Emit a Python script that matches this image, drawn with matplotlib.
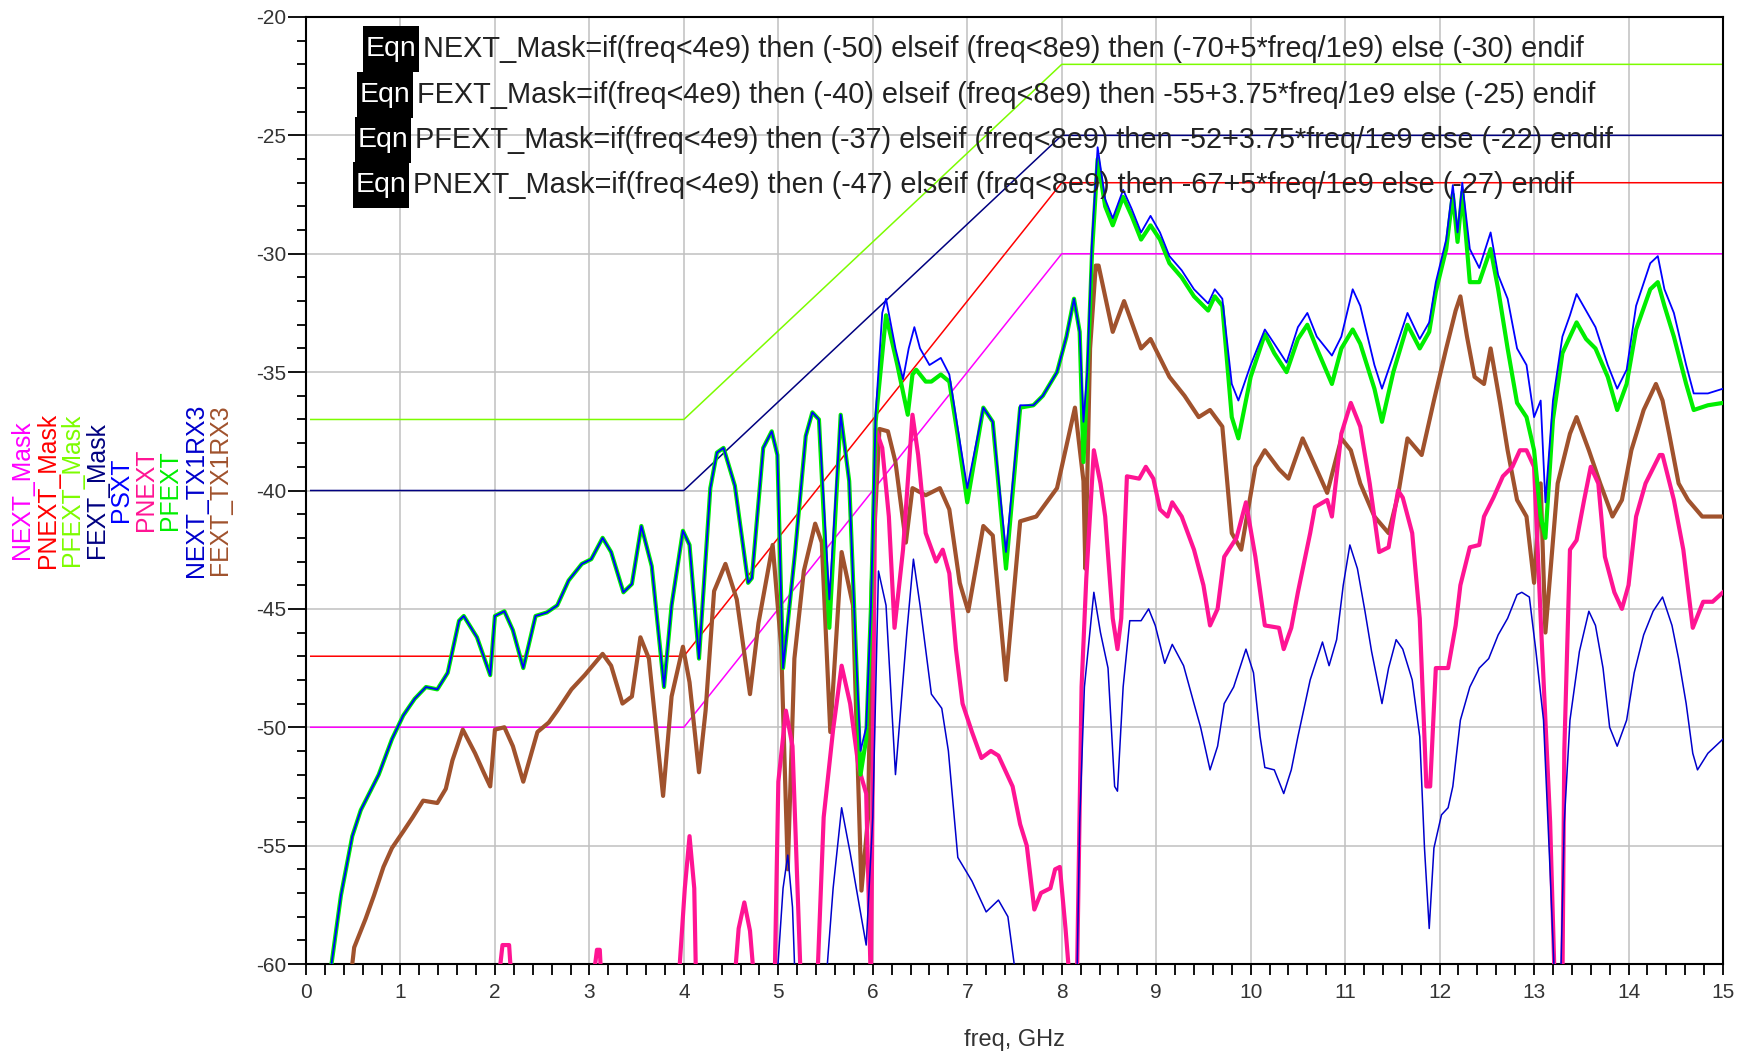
import matplotlib
matplotlib.use("Agg")
import matplotlib.pyplot as plt
from matplotlib.patches import Rectangle
from matplotlib.ticker import MultipleLocator

plt.rcParams['font.family'] = ['Liberation Sans', 'DejaVu Sans']

# masks (piecewise from the equations)
mask_f = [0.05, 4, 8, 15]
next_mask = [-50, -50, -30, -30]
pnext_mask = [-47, -47, -27, -27]
pfext_mask = [-37, -37, -22, -22]
fext_mask = [-40, -40, -25, -25]

# PFEXT (thick green)
pfext_f = [0.25, 0.27, 0.37, 0.49, 0.58, 0.77, 0.91, 1.03, 1.15, 1.27, 1.39, 1.5, 1.62, 1.67, 1.81, 1.95,
           2.0, 2.1, 2.19, 2.3, 2.43, 2.55, 2.66, 2.78, 2.92, 3.02, 3.14, 3.23, 3.36, 3.45, 3.55, 3.66,
           3.79, 3.87, 3.99, 4.06, 4.16, 4.28, 4.35, 4.42, 4.54, 4.68, 4.72, 4.84, 4.93, 4.99, 5.05,
           5.18, 5.29, 5.36, 5.43, 5.54, 5.66, 5.75, 5.82, 5.87, 5.93, 5.98, 6.03, 6.14, 6.26, 6.37,
           6.42, 6.46, 6.56, 6.62, 6.72, 6.81, 6.9, 7.0, 7.17, 7.27, 7.41, 7.56, 7.7, 7.8, 7.95, 8.05,
           8.13, 8.19, 8.23, 8.27, 8.32, 8.38, 8.46, 8.54, 8.65, 8.74, 8.84, 8.94, 9.04, 9.14, 9.27,
           9.4, 9.55, 9.62, 9.7, 9.8, 9.87, 10.0, 10.15, 10.25, 10.38, 10.5, 10.6, 10.7, 10.86, 10.96,
           11.08, 11.16, 11.31, 11.39, 11.51, 11.66, 11.79, 11.89, 11.96, 12.07, 12.14, 12.19, 12.24,
           12.32, 12.42, 12.54, 12.62, 12.72, 12.82, 12.92, 13.0, 13.07, 13.12, 13.2, 13.3, 13.38,
           13.45, 13.55, 13.65, 13.78, 13.88, 13.98, 14.08, 14.23, 14.31, 14.38, 14.48, 14.61, 14.69,
           14.84, 15.0]
pfext_db = [-61, -60, -57.1, -54.6, -53.5, -52.0, -50.5, -49.5, -48.8, -48.3, -48.4, -47.7, -45.5, -45.3, -46.2, -47.8,
            -45.3, -45.1, -45.9, -47.5, -45.3, -45.15, -44.85, -43.8, -43.1, -42.9, -42.0, -42.6, -44.3, -43.95, -41.5, -43.2,
            -48.3, -44.85, -41.7, -42.3, -47.1, -39.9, -38.4, -38.2, -39.8, -43.9, -43.7, -38.2, -37.5, -38.5, -47.5,
            -42.5, -37.7, -36.7, -37.0, -45.8, -36.8, -39.6, -46.7, -52.0, -50.5, -45.0, -37.1, -32.6, -34.7, -36.8,
            -35.1, -34.9, -35.4, -35.4, -35.1, -35.4, -37.7, -40.5, -36.5, -37.1, -43.3, -36.5, -36.4, -36.0, -35.0, -33.5,
            -31.9, -33.3, -38.8, -35.4, -30.0, -26.0, -28.0, -28.8, -27.6, -28.4, -29.4, -28.8, -29.4, -30.4, -31.0,
            -31.8, -32.4, -31.8, -32.2, -36.9, -37.8, -35.2, -33.4, -34.2, -35.0, -33.6, -33.0, -34.0, -35.5, -34.0,
            -33.2, -33.8, -35.7, -37.1, -35.0, -33.0, -34.0, -33.3, -31.6, -29.8, -27.5, -29.5, -27.4,
            -31.2, -31.2, -29.8, -31.5, -34.0, -36.3, -36.9, -38.3, -41.1, -42.0, -37.0, -34.2, -33.5,
            -32.9, -33.6, -34.0, -35.2, -36.6, -35.5, -33.2, -31.5, -31.2, -32.2, -33.5, -35.5, -36.6,
            -36.4, -36.3]

# PSXT (thin blue riding on PFEXT)
psxt_f = [0.25, 0.27, 0.37, 0.49, 0.58, 0.77, 0.91, 1.03, 1.15, 1.27, 1.39, 1.5, 1.62, 1.67, 1.81, 1.95,
          2.0, 2.1, 2.19, 2.3, 2.43, 2.55, 2.66, 2.78, 2.92, 3.02, 3.14, 3.23, 3.36, 3.45, 3.55, 3.66,
          3.79, 3.87, 3.99, 4.06, 4.16, 4.28, 4.35, 4.42, 4.54, 4.68, 4.72, 4.84, 4.93, 4.99, 5.05,
          5.18, 5.29, 5.36, 5.43, 5.54, 5.66, 5.75, 5.82, 5.87, 5.93, 5.98, 6.03, 6.1, 6.14, 6.24, 6.32,
          6.38, 6.44, 6.5, 6.6, 6.72, 6.81, 6.9, 7.0, 7.17, 7.27, 7.41, 7.56, 7.7, 7.8, 7.95, 8.05,
          8.13, 8.19, 8.23, 8.27, 8.32, 8.38, 8.46, 8.54, 8.65, 8.74, 8.84, 8.94, 9.04, 9.14, 9.27,
          9.4, 9.55, 9.62, 9.7, 9.8, 9.87, 10.0, 10.15, 10.25, 10.38, 10.5, 10.6, 10.7, 10.86, 10.96,
          11.08, 11.16, 11.31, 11.39, 11.51, 11.66, 11.79, 11.89, 11.96, 12.07, 12.14, 12.19, 12.24,
          12.32, 12.42, 12.54, 12.62, 12.72, 12.82, 12.92, 13.0, 13.07, 13.12, 13.2, 13.3, 13.38,
          13.45, 13.55, 13.65, 13.78, 13.88, 13.98, 14.08, 14.23, 14.31, 14.38, 14.48, 14.61, 14.69,
          14.84, 15.0]
psxt_db = [-61, -60, -57.1, -54.6, -53.5, -52.0, -50.5, -49.5, -48.8, -48.3, -48.4, -47.7, -45.5, -45.3, -46.2, -47.8,
           -45.3, -45.1, -45.9, -47.5, -45.3, -45.15, -44.85, -43.8, -43.1, -42.9, -42.0, -42.6, -44.3, -43.95, -41.5, -43.2,
           -48.3, -44.85, -41.7, -42.3, -47.1, -39.9, -38.4, -38.2, -39.8, -43.9, -43.7, -38.2, -37.5, -38.5, -47.5,
           -42.5, -37.7, -36.7, -37.0, -44.6, -36.8, -39.6, -46.7, -51.0, -50.0, -45.0, -36.8, -32.5, -31.9, -34.0, -35.3,
           -34.0, -33.1, -34.0, -34.7, -34.4, -35.1, -37.4, -39.9, -36.5, -37.1, -42.6, -36.4, -36.4, -36.0, -35.0, -33.5,
           -31.9, -33.3, -37.1, -35.0, -29.5, -25.5, -27.7, -28.5, -27.3, -28.1, -29.1, -28.4, -29.1, -30.1, -30.7,
           -31.5, -32.1, -31.5, -31.9, -35.5, -36.2, -34.7, -33.2, -33.8, -34.6, -33.1, -32.5, -33.5, -34.3, -33.5,
           -31.5, -32.2, -34.7, -35.7, -34.3, -32.5, -33.6, -32.9, -31.2, -29.4, -27.1, -29.1, -27.0,
           -29.8, -30.6, -29.1, -30.9, -31.9, -34.0, -34.7, -36.9, -36.2, -40.5, -36.2, -33.5, -32.6,
           -31.7, -32.4, -33.1, -34.7, -35.7, -34.9, -32.2, -30.4, -30.1, -31.5, -32.5, -34.7, -35.9,
           -35.9, -35.7]

# FEXT_TX1RX3 (thick brown)
fext_f = [0.47, 0.49, 0.51, 0.63, 0.72, 0.82, 0.91, 1.03, 1.13, 1.24, 1.39, 1.48, 1.55, 1.66, 1.79, 1.88,
          1.95, 2.0, 2.1, 2.19, 2.3, 2.45, 2.57, 2.66, 2.81, 2.95, 3.14, 3.23, 3.35, 3.45, 3.54, 3.63,
          3.78, 3.87, 3.99, 4.06, 4.16, 4.23, 4.32, 4.44, 4.56, 4.7, 4.79, 4.94, 5.03, 5.1, 5.17, 5.27,
          5.39, 5.46, 5.55, 5.67, 5.79, 5.88, 5.95, 5.99, 6.07, 6.16, 6.24, 6.35, 6.42, 6.56, 6.71, 6.81,
          6.92, 7.01, 7.17, 7.27, 7.41, 7.56, 7.73, 7.95, 8.14, 8.23, 8.25, 8.3, 8.36, 8.39, 8.54, 8.66,
          8.84, 8.94, 9.14, 9.3, 9.45, 9.57, 9.7, 9.8, 9.9, 10.05, 10.15, 10.3, 10.4, 10.55, 10.63,
          10.81, 10.96, 11.06, 11.16, 11.31, 11.46, 11.56, 11.66, 11.81, 11.94, 12.07, 12.17, 12.22,
          12.29, 12.37, 12.47, 12.54, 12.64, 12.72, 12.82, 12.92, 13.0, 13.07, 13.12, 13.25, 13.38,
          13.45, 13.58, 13.7, 13.83, 13.93, 14.03, 14.16, 14.29, 14.36, 14.43, 14.53, 14.63, 14.78, 15.0]
fext_db = [-61, -60, -59.3, -58.1, -57.1, -55.9, -55.1, -54.4, -53.8, -53.1, -53.2, -52.6, -51.4, -50.1, -51.1, -51.9,
           -52.5, -50.1, -50.0, -50.8, -52.3, -50.2, -49.8, -49.3, -48.4, -47.8, -46.9, -47.4, -49.0, -48.7, -46.2, -47.1,
           -52.9, -48.7, -46.6, -48.1, -51.9, -49.3, -44.25, -43.1, -44.6, -48.6, -45.6, -42.3, -46.6, -56.0, -47.1, -43.4,
           -41.4, -42.2, -50.2, -42.6, -44.85, -56.9, -53.8, -43.9, -37.4, -37.5, -38.8, -42.2, -39.9, -40.2, -39.9, -40.8,
           -43.9, -45.1, -41.5, -41.9, -48.0, -41.3, -41.1, -39.9, -36.5, -39.6, -43.3, -34.0, -30.5, -30.5, -33.3, -32.0,
           -34.0, -33.6, -35.2, -36.0, -36.9, -36.6, -37.3, -41.8, -42.5, -39.0, -38.3, -39.1, -39.5, -37.8, -38.5,
           -40.1, -37.8, -38.3, -39.7, -41.1, -41.8, -40.2, -37.8, -38.5, -36.2, -34.0, -32.4, -31.8,
           -33.5, -35.2, -35.5, -34.0, -36.3, -38.3, -40.4, -41.1, -43.9, -39.7, -46.0, -39.7, -37.6,
           -36.9, -38.3, -39.7, -41.1, -40.4, -38.3, -36.6, -35.5, -36.2, -37.6, -39.7, -40.4, -41.1, -41.1]

# PNEXT (thick pink)
pnext_f = [2.03, 2.08, 2.15, 2.18, 3.03, 3.08, 3.11, 3.13, 3.94, 4.01, 4.06, 4.11, 4.13, 4.53, 4.58, 4.64, 4.7,
           4.75, 4.96, 5.0, 5.08, 5.15, 5.24, 5.41, 5.48, 5.58, 5.67, 5.76, 5.85, 5.93, 5.98, 6.03, 6.1, 6.17,
           6.23, 6.32, 6.42, 6.48, 6.56, 6.67, 6.74, 6.81, 6.88, 6.95, 7.05, 7.15, 7.25, 7.33, 7.48, 7.56,
           7.63, 7.71, 7.78, 7.88, 7.93, 7.98, 8.04, 8.09, 8.16, 8.21, 8.26, 8.34, 8.41, 8.46, 8.54, 8.59,
           8.63, 8.69, 8.82, 8.89, 8.97, 9.04, 9.12, 9.17, 9.27, 9.4, 9.5, 9.57, 9.65, 9.72, 9.85, 9.95,
           10.05, 10.15, 10.3, 10.35, 10.43, 10.5, 10.63, 10.68, 10.81, 10.86, 10.96, 11.06, 11.16, 11.26,
           11.36, 11.46, 11.56, 11.61, 11.71, 11.79, 11.86, 11.9, 11.96, 12.09, 12.17, 12.22, 12.32, 12.42,
           12.47, 12.57, 12.67, 12.77, 12.85, 12.92, 13.0, 13.07, 13.17, 13.22, 13.3, 13.32, 13.38, 13.45,
           13.53, 13.6, 13.68, 13.75, 13.85, 13.93, 14.0, 14.08, 14.18, 14.33, 14.36, 14.48, 14.58, 14.68,
           14.79, 14.89, 15.0]
pnext_db = [-61, -59.2, -59.2, -61, -61, -59.4, -59.4, -61, -61, -56.8, -54.6, -56.8, -61, -61, -58.5, -57.4, -58.6,
            -61, -61, -52.3, -49.3, -50.8, -61, -61, -53.8, -50.1, -47.4, -49.0, -51.7, -52.8, -61, -37.4, -38.2, -41.1,
            -45.8, -42.5, -36.8, -38.5, -41.8, -43.0, -42.5, -43.5, -46.7, -49.0, -50.2, -51.3, -51.0, -51.2, -52.5, -54.1,
            -55.0, -57.7, -57.0, -56.8, -56.0, -55.9, -58.5, -61, -61, -48.3, -43.7, -38.3, -39.7, -41.1, -45.4, -46.7,
            -45.4, -39.4, -39.5, -39.0, -39.5, -40.8, -41.1, -40.5, -41.1, -42.5, -44.0, -45.7, -45.0, -42.8, -42.0, -40.5,
            -42.8, -45.7, -45.8, -46.7, -45.8, -44.3, -41.8, -40.7, -40.4, -41.1, -37.6, -36.3, -37.3, -39.7,
            -42.6, -42.4, -40.0, -40.3, -41.8, -45.4, -52.5, -52.5, -47.5, -47.5, -45.7, -44.0, -42.4, -42.3,
            -41.1, -40.3, -39.4, -39.0, -38.3, -38.3, -39.0, -45.4, -54.0, -61, -61, -51.0, -42.5, -42.1,
            -40.4, -39.0, -39.7, -42.8, -44.3, -45.0, -44.0, -41.1, -39.7, -38.5, -38.5, -40.4, -42.5, -45.8,
            -44.7, -44.7, -44.3]

# NEXT_TX1RX3 (thin blue, lower)
next_f = [4.98, 5.05, 5.1, 5.15, 5.18, 5.5, 5.58, 5.67, 5.76, 5.86, 5.93, 6.0, 6.06, 6.14, 6.24, 6.36, 6.43,
          6.5, 6.62, 6.73, 6.8, 6.9, 7.05, 7.2, 7.33, 7.43, 7.53, 8.16, 8.19, 8.24, 8.34, 8.41, 8.49, 8.56,
          8.59, 8.65, 8.72, 8.84, 8.92, 8.99, 9.09, 9.17, 9.29, 9.4, 9.47, 9.57, 9.65, 9.72, 9.82, 9.95,
          10.03, 10.1, 10.15, 10.25, 10.35, 10.43, 10.5, 10.63, 10.76, 10.83, 10.91, 10.98, 11.05, 11.13,
          11.21, 11.28, 11.39, 11.46, 11.54, 11.61, 11.71, 11.79, 11.84, 11.89, 11.94, 12.02, 12.09, 12.14,
          12.22, 12.32, 12.42, 12.52, 12.62, 12.72, 12.82, 12.87, 12.95, 13.02, 13.1, 13.17, 13.22, 13.28,
          13.32, 13.38, 13.48, 13.58, 13.65, 13.73, 13.8, 13.88, 13.98, 14.06, 14.16, 14.26, 14.36, 14.46,
          14.53, 14.61, 14.68, 14.73, 14.84, 15.0]
next_db = [-61, -56.8, -55.4, -57.6, -61, -61, -56.8, -53.4, -55.3, -57.6, -59.2, -53.8, -43.4, -44.85, -52.0, -46.0, -42.9,
           -44.85, -48.6, -49.2, -51.0, -55.5, -56.5, -57.8, -57.3, -58.0, -61, -61, -54.0, -48.3, -44.3, -46.0, -47.5, -52.5,
           -52.7, -48.3, -45.5, -45.5, -45.0, -45.7, -47.3, -46.5, -47.4, -49.0, -50.0, -51.8, -50.8, -49.0, -48.3, -46.7,
           -47.7, -50.4, -51.7, -51.8, -52.8, -51.8, -50.4, -48.0, -46.4, -47.4, -46.3, -44.0, -42.3, -43.3,
           -45.1, -46.8, -49.0, -47.5, -46.3, -46.7, -48.0, -50.4, -55.1, -58.5, -55.1, -53.7, -53.4, -52.5,
           -49.7, -48.3, -47.5, -47.1, -46.1, -45.4, -44.4, -44.3, -44.5, -46.8, -49.7, -56.1, -61, -61,
           -54.0, -49.7, -46.8, -45.1, -45.7, -47.5, -50.0, -50.8, -49.7, -47.7, -46.1, -45.1, -44.5, -45.7,
           -47.1, -49.0, -51.1, -51.8, -51.1, -50.5]

legend_names = ['NEXT_Mask', 'PNEXT_Mask', 'PFEXT_Mask', 'FEXT_Mask', 'PSXT', 'PNEXT', 'PFEXT',
                'NEXT_TX1RX3', 'FEXT_TX1RX3']
legend_colors = ['#ff00ff', '#ff0000', '#7cfc00', '#000080', '#0000ff', '#ff1493', '#00ee00',
                 '#0000cc', '#a0522d']

eqn_lines = ['NEXT_Mask=if(freq<4e9) then (-50) elseif (freq<8e9) then (-70+5*freq/1e9) else (-30) endif',
             'FEXT_Mask=if(freq<4e9) then (-40) elseif (freq<8e9) then -55+3.75*freq/1e9 else (-25) endif',
             'PFEXT_Mask=if(freq<4e9) then (-37) elseif (freq<8e9) then -52+3.75*freq/1e9 else (-22) endif',
             'PNEXT_Mask=if(freq<4e9) then (-47) elseif (freq<8e9) then -67+5*freq/1e9 else (-27) endif']

W, H = 1745, 1053
fig = plt.figure(figsize=(W / 100, H / 100), dpi=100)
ax = fig.add_axes([306 / W, 1 - 964 / H, (1723 - 306) / W, (964 - 17) / H])

ax.plot(mask_f, next_mask, color='#ff00ff', lw=1.1, zorder=2)
ax.plot(mask_f, pnext_mask, color='#ff0000', lw=1.1, zorder=2)
ax.plot(mask_f, pfext_mask, color='#7cfc00', lw=1.1, zorder=2)
ax.plot(mask_f, fext_mask, color='#000080', lw=1.1, zorder=2)

ax.plot(fext_f, fext_db, color='#a0522d', lw=3.0, zorder=3)
ax.plot(pnext_f, pnext_db, color='#ff1493', lw=3.0, zorder=4)
ax.plot(next_f, next_db, color='#0000cc', lw=1.1, zorder=5)
ax.plot(pfext_f, pfext_db, color='#00ee00', lw=3.0, zorder=6)
ax.plot(psxt_f, psxt_db, color='#0000ff', lw=1.3, zorder=7)

ax.set_xlim(0, 15)
ax.set_ylim(-60, -20)
ax.xaxis.set_major_locator(MultipleLocator(1))
ax.xaxis.set_minor_locator(MultipleLocator(0.2))
ax.yaxis.set_major_locator(MultipleLocator(5))
ax.yaxis.set_minor_locator(MultipleLocator(1))
ax.grid(True, which='major', color='#c0c0c0', lw=1.1, zorder=0)
ax.set_axisbelow(True)
for s in ax.spines.values():
    s.set_linewidth(1.5)
ax.tick_params(axis='y', which='major', direction='out', length=13, width=1.3, pad=1,
               labelsize=15, labelcolor='#333333')
ax.tick_params(axis='y', which='minor', direction='out', length=6.5, width=1.3)
ax.tick_params(axis='x', which='both', direction='out', length=8, width=1.3, pad=6,
               labelsize=15, labelcolor='#333333')
ax.set_yticks(range(-60, -19, 5))
ax.set_yticklabels([str(v) for v in range(-60, -19, 5)])

fig.text(1014 / W, 1 - 1040 / H, 'freq, GHz', ha='center', va='center', fontsize=17, color='#333333')

# vertical legend on the left
leg_x = [22, 48, 72, 97, 121, 146, 170, 196, 220]
for name, col, px in zip(legend_names, legend_colors, leg_x):
    fig.text(px / W, 1 - 490 / H, name, rotation=90, ha='center', va='center',
             fontsize=17.8, color=col)

# equation blocks
box_x = [363, 357, 355, 353]
row_y = [49, 95, 140, 185]
for line, bx, ry in zip(eqn_lines, box_x, row_y):
    fig.patches.append(Rectangle((bx / W, 1 - (ry + 23) / H), 56 / W, 46 / H,
                                 transform=fig.transFigure, facecolor='black',
                                 edgecolor='none', zorder=10))
    fig.text((bx + 28) / W, 1 - ry / H, 'Eqn', ha='center', va='center',
             fontsize=20.5, color='white', zorder=11)
    fig.text((bx + 60) / W, 1 - ry / H, line, ha='left', va='center',
             fontsize=20.8, color='#222222', zorder=11)

fig.savefig('out.png', dpi=100)
